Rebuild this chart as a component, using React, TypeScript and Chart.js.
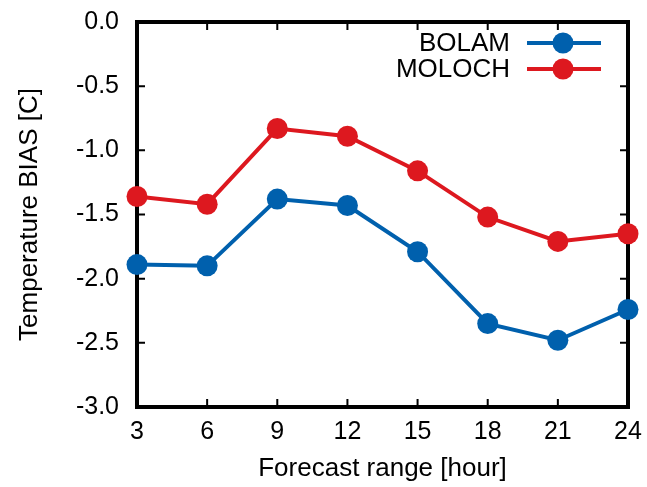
import { useEffect, useRef } from 'react';
import { Chart, registerables } from 'chart.js';

Chart.register(...registerables);

const forecastHours = [3, 6, 9, 12, 15, 18, 21, 24];
const bolamBias = [-1.89, -1.90, -1.38, -1.43, -1.79, -2.35, -2.48, -2.24];
const molochBias = [-1.36, -1.42, -0.83, -0.89, -1.16, -1.52, -1.71, -1.65];
const seriesLabels = ['BOLAM', 'MOLOCH'];
const seriesColors = ['#0060ad', '#dd181f'];
const xRange = [3, 24];
const yRange = [-3, 0];
const xStep = 3;
const yStep = 0.5;
const xTitle = 'Forecast range [hour]';
const yTitle = 'Temperature BIAS [C]';

const FONT = "'Liberation Sans', Arial, Helvetica, sans-serif";

const framePlugin = {
  id: 'frame',
  beforeDatasetsDraw(chart: any) {
    const { ctx, chartArea, scales } = chart;
    const { left, right, top, bottom } = chartArea;
    const tl = 8;
    ctx.save();
    ctx.strokeStyle = '#000';
    ctx.lineWidth = 2;
    ctx.beginPath();
    scales.x.ticks.forEach((t: any) => {
      const px = scales.x.getPixelForValue(t.value);
      ctx.moveTo(px, bottom);
      ctx.lineTo(px, bottom - tl);
      ctx.moveTo(px, top);
      ctx.lineTo(px, top + tl);
    });
    scales.y.ticks.forEach((t: any) => {
      const py = scales.y.getPixelForValue(t.value);
      ctx.moveTo(left, py);
      ctx.lineTo(left + tl, py);
      ctx.moveTo(right, py);
      ctx.lineTo(right - tl, py);
    });
    ctx.stroke();
    ctx.lineWidth = 4;
    ctx.strokeRect(left, top, right - left, bottom - top);
    ctx.restore();
  },
};

const keyPlugin = {
  id: 'key',
  afterDatasetsDraw(chart: any) {
    const { ctx, chartArea } = chart;
    const { right, top } = chartArea;
    ctx.save();
    ctx.font = `26px ${FONT}`;
    ctx.textAlign = 'right';
    ctx.textBaseline = 'middle';
    chart.data.datasets.forEach((ds: any, i: number) => {
      const y = top + 21 + i * 26;
      ctx.fillStyle = '#000';
      ctx.fillText(ds.label, right - 118, y + 1);
      ctx.strokeStyle = ds.borderColor;
      ctx.lineWidth = ds.borderWidth;
      ctx.beginPath();
      ctx.moveTo(right - 101, y);
      ctx.lineTo(right - 27, y);
      ctx.stroke();
      ctx.fillStyle = ds.pointBackgroundColor;
      ctx.beginPath();
      ctx.arc(right - 65, y, ds.pointRadius, 0, Math.PI * 2);
      ctx.fill();
    });
    ctx.restore();
  },
};

export default function App() {
  const ref = useRef<HTMLCanvasElement>(null);
  useEffect(() => {
    document.body.style.margin = '0';
    const seriesValues = [bolamBias, molochBias];
    const chart = new Chart(ref.current!, {
      type: 'line',
      data: {
        datasets: seriesLabels.map((label, i) => ({
          label,
          data: forecastHours.map((h, j) => ({ x: h, y: seriesValues[i][j] })),
          borderColor: seriesColors[i],
          backgroundColor: seriesColors[i],
          pointBackgroundColor: seriesColors[i],
          pointBorderWidth: 0,
          pointRadius: 10.5,
          borderWidth: 4,
          clip: false as any,
          tension: 0,
        })),
      },
      options: {
        responsive: false,
        animation: false,
        layout: { padding: { top: 22, right: 19, left: 0, bottom: 0 } },
        plugins: {
          legend: { display: false },
          tooltip: { enabled: false },
        },
        scales: {
          x: {
            type: 'linear',
            min: xRange[0],
            max: xRange[1],
            grid: { display: false, drawTicks: false },
            border: { display: false },
            ticks: {
              stepSize: xStep,
              color: '#000',
              padding: 10,
              font: { family: FONT, size: 25 },
              maxRotation: 0,
            },
            title: {
              display: true,
              text: xTitle,
              color: '#000',
              font: { family: FONT, size: 26 },
              padding: { top: 0, bottom: 3 },
            },
            afterFit(scale: any) {
              scale.height = 80;
              scale.paddingLeft = 0;
              scale.paddingRight = 0;
            },
          },
          y: {
            type: 'linear',
            min: yRange[0],
            max: yRange[1],
            grid: { display: false, drawTicks: false },
            border: { display: false },
            ticks: {
              stepSize: yStep,
              color: '#000',
              padding: 18,
              font: { family: FONT, size: 25 },
              callback: (v: any) => Number(v).toFixed(1),
            },
            title: {
              display: true,
              text: yTitle,
              color: '#000',
              font: { family: FONT, size: 26 },
              padding: { top: 14, bottom: 0 },
            },
            afterFit(scale: any) {
              scale.width = 137;
              scale.paddingTop = 0;
              scale.paddingBottom = 0;
            },
          },
        },
      },
      plugins: [framePlugin, keyPlugin],
    });
    return () => chart.destroy();
  }, []);
  return (
    <canvas
      ref={ref}
      width={647}
      height={487}
      style={{ position: 'fixed', left: 0, top: 0, width: 647, height: 487 }}
    />
  );
}
